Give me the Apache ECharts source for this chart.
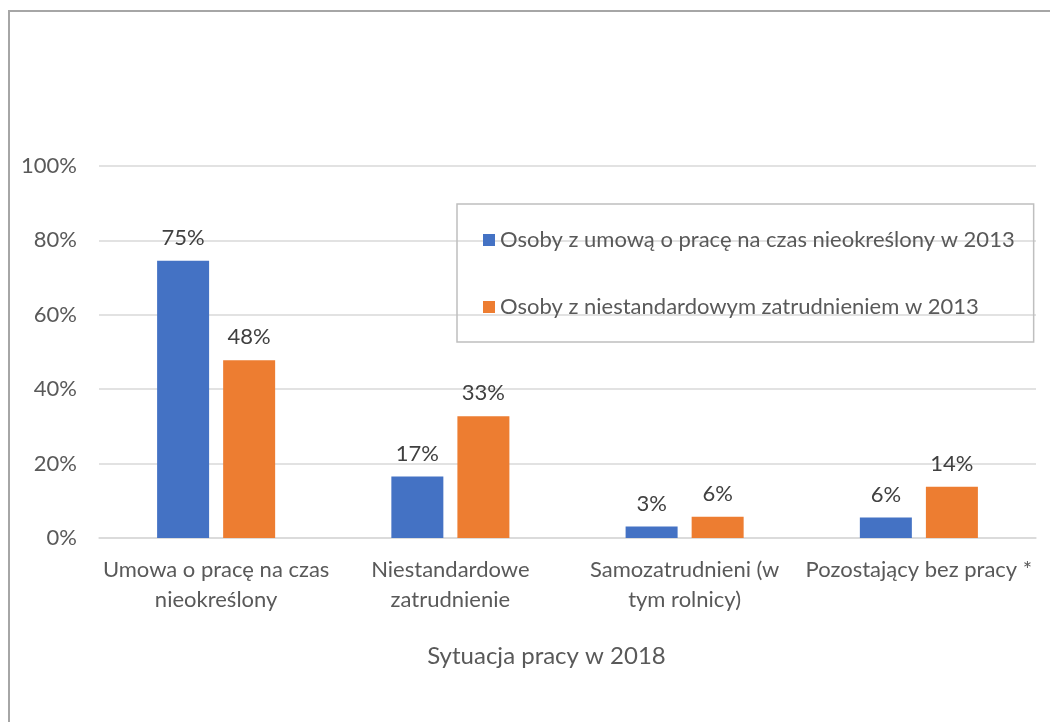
<!DOCTYPE html>
<html>
<head>
<meta charset="utf-8">
<script src="https://cdn.jsdelivr.net/npm/echarts@6/dist/echarts.min.js"></script>
<style>
	html, body { margin: 0; padding: 0; background: #fff; }
	#chart { width: 1050px; height: 722px; }
</style>
</head>
<body>
<div id="chart"></div>
<script>
	// 分类
	var categories = ['Umowa o pracę na czas\nnieokreślony', 'Niestandardowe\nzatrudnienie', 'Samozatrudnieni (w\ntym rolnicy)', 'Pozostający bez pracy *'];
	// 系列名
	var seriesNames = ['Osoby z umową o pracę na czas nieokreślony w 2013', 'Osoby z niestandardowym zatrudnieniem w 2013'];
	// 数值 (%)
	var permanentValues = [74.5, 16.5, 3.1, 5.5];
	var nonStandardValues = [47.8, 32.7, 5.7, 13.8];
	var axisName = 'Sytuacja pracy w 2018';

	var font = 'Lato, "Open Sans", sans-serif';
	var fontSize = 22;
	var colors = ['#4472c4', '#ed7d31'];

	var labelOpt = {
		show: true,
		position: 'top',
		distance: 12,
		color: '#404040',
		fontSize: fontSize,
		fontFamily: font,
		formatter: function(p) {
			return Math.round(p.value) + '%';
		}
	};

	var option = {
		animation: false,
		textStyle: { fontFamily: font },
		graphic: [{
			type: 'rect',
			shape: { x: 9, y: 11, width: 1200, height: 900 },
			style: { fill: 'none', stroke: '#a6a6a6', lineWidth: 2 },
			silent: true
		}],
		legend: {
			orient: 'vertical',
			left: 457,
			top: 204,
			padding: [25, 19, 24, 26],
			itemGap: 45,
			itemWidth: 12,
			itemHeight: 12,
			icon: 'rect',
			borderColor: '#bfbfbf',
			borderWidth: 1.5,
			textStyle: { color: '#595959', fontSize: fontSize, fontFamily: font },
			data: seriesNames
		},
		grid: {
			left: 99,
			right: 14,
			top: 166,
			bottom: 184
		},
		xAxis: {
			type: 'category',
			data: categories,
			name: axisName,
			nameLocation: 'middle',
			nameGap: 106,
			nameTextStyle: { color: '#595959', fontSize: 24, fontFamily: font, padding: [0, 42, 0, 0] },
			axisTick: { show: false },
			axisLine: { lineStyle: { color: '#d9d9d9', width: 1.5 } },
			axisLabel: {
				color: '#595959',
				fontSize: fontSize,
				fontFamily: font,
				margin: 17,
				lineHeight: 30,
				interval: 0,
				verticalAlign: 'top'
			}
		},
		yAxis: {
			type: 'value',
			min: 0,
			max: 100,
			interval: 20,
			axisLine: { show: false },
			axisTick: { show: false },
			splitLine: { lineStyle: { color: '#d9d9d9', width: 1.5 } },
			axisLabel: {
				color: '#595959',
				fontSize: fontSize,
				fontFamily: font,
				margin: 22,
				formatter: '{value}%'
			}
		},
		series: [{
			name: seriesNames[0],
			type: 'bar',
			data: permanentValues,
			barWidth: 52,
			barGap: '27%',
			itemStyle: { color: colors[0] },
			label: labelOpt
		}, {
			name: seriesNames[1],
			type: 'bar',
			data: nonStandardValues,
			barWidth: 52,
			barGap: '27%',
			itemStyle: { color: colors[1] },
			label: labelOpt
		}]
	};

	var chart = echarts.init(document.getElementById('chart'));
	chart.setOption(option);
</script>
</body>
</html>
